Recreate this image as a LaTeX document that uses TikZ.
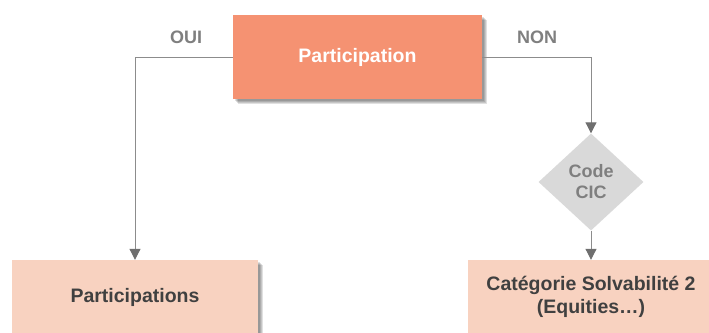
\documentclass[tikz,border=0pt]{standalone}
\usepackage{fontspec}
\setmainfont{Liberation Sans}
\usetikzlibrary{shapes.geometric,arrows.meta}
\definecolor{salmon}{HTML}{F59272}
\definecolor{peach}{HTML}{F8D2C0}
\definecolor{diagray}{HTML}{D9D9D9}
\definecolor{linegray}{HTML}{8C8C8C}
\definecolor{tipgray}{HTML}{6F6F6F}
\definecolor{labgray}{HTML}{7F7F7F}
\definecolor{darktext}{HTML}{404040}
\tikzset{
  boxshadow/.style={fill=black, opacity=0.12},
  mainbox/.style={rectangle, fill=salmon, minimum width=249pt, minimum height=84pt, inner sep=0pt,
    text=white, font=\fontsize{19.5}{23}\selectfont\bfseries},
  leafbox/.style={rectangle, fill=peach, minimum width=246pt, minimum height=74pt, inner sep=0pt,
    text=darktext, align=center, font=\fontsize{19.5}{23}\selectfont\bfseries},
  decision/.style={diamond, fill=diagray, minimum width=105pt, minimum height=97pt, inner sep=0pt,
    text=labgray, align=center, font=\fontsize{18}{21}\selectfont\bfseries},
  branchlabel/.style={text=labgray, font=\fontsize{18}{21}\selectfont\bfseries},
  connector/.style={draw=linegray, line width=1pt, -{Triangle[width=11pt,length=11pt,color=tipgray]}}
}
\begin{document}
\begin{tikzpicture}[x=1pt,y=-1pt]
\useasboundingbox (0,0) rectangle (709,332);
\clip (0,0) rectangle (709,332);
% soft shadows
\foreach \d in {1.5,2.5,3.5,4.5}{
  \fill[boxshadow] (233+\d,15+\d) rectangle (482+\d,99+\d);
  \fill[boxshadow] (12+\d,260+\d) rectangle (258+\d,334+\d);
  \fill[boxshadow] (468+\d,260+\d) rectangle (714+\d,334+\d);
}
% nodes
\node[mainbox] (top) at (357.5,57) {Participation};
\node[leafbox] (left) at (135,297) {Participations};
\node[decision] (dia) at (591,182) {Code\\CIC};
\node[leafbox] (right) at (591,297) {Catégorie Solvabilité 2\\(Equities…)};
\node[branchlabel] (oui) at (186,37) {OUI};
\node[branchlabel] (non) at (537,37) {NON};
% connectors
\draw[connector] (top.west) -| (left.north);
\draw[connector] (top.east) -| (dia.north);
\draw[connector] (dia.south) -- (right.north);
\end{tikzpicture}
\end{document}
